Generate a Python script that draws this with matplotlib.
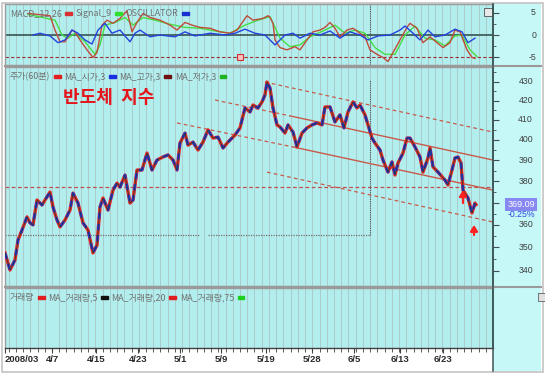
import numpy as np
import matplotlib
matplotlib.use("Agg")
import matplotlib.pyplot as plt
import matplotlib.transforms as mtrans
from matplotlib.patches import Rectangle
from matplotlib.lines import Line2D
from matplotlib.offsetbox import TextArea, DrawingArea, HPacker, AnchoredOffsetbox
from matplotlib.ticker import FixedLocator, NullFormatter

KR = ['Noto Sans CJK KR', 'DejaVu Sans']
NUM = ['Liberation Sans', 'DejaVu Sans']
BG = '#b3eeee'
STRIP = '#c6f8f8'
GRID = '#a9c6c6'

# time index t (chart steps, ~7.2 per trading day), 60-min price readings
price_t = [0, 5, 10, 13, 17, 22, 25, 28, 32, 37, 40, 45, 48, 52, 55, 60, 65, 68, 73, 78,
           83, 88, 92, 95, 98, 103, 108, 112, 115, 120, 125, 128, 132, 137, 142, 147, 152, 158, 163, 168,
           172, 175, 180, 183, 188, 193, 198, 203, 208, 213, 218, 223, 230, 235, 240, 245, 248, 253, 257, 260,
           262, 265, 268, 272, 275, 280, 283, 288, 292, 297, 302, 307, 312, 317, 320, 325, 330, 335, 339, 343,
           348, 352, 355, 360, 363, 367, 370, 375, 378, 383, 387, 390, 393, 398, 402, 405, 410, 415, 418, 423,
           425, 428, 433, 440, 443, 447, 450, 453, 456, 458, 463, 467, 470, 471]
price_v = [347.6, 340.3, 344.6, 353.2, 357.6, 363.5, 360.8, 359.9, 371.2, 368.9, 371.2, 374.9, 368.0, 362.1, 359.0, 362.1, 366.6, 374.4, 369.8, 360.8,
           357.6, 347.6, 351.0, 368.0, 372.1, 366.6, 375.8, 379.1, 377.2, 382.9, 369.8, 371.2, 385.3, 385.3, 393.5, 385.3, 390.1, 391.6, 392.6, 390.1,
           385.3, 398.4, 403.4, 397.4, 398.9, 395.0, 398.9, 405.0, 400.9, 401.4, 396.0, 398.9, 402.4, 406.0, 416.2, 414.1, 417.7, 416.2, 419.3, 423.0,
           429.8, 426.6, 416.2, 407.5, 406.5, 403.4, 407.5, 403.9, 396.5, 403.4, 406.0, 407.5, 408.5, 407.5, 416.7, 416.7, 409.0, 412.6, 406.0, 414.1,
           419.3, 416.2, 417.7, 412.6, 407.5, 400.9, 398.4, 395.0, 390.1, 384.3, 389.2, 382.9, 388.7, 393.5, 400.9, 400.9, 396.5, 391.6, 384.3, 391.1,
           396.0, 386.8, 384.3, 380.5, 378.2, 385.3, 391.1, 391.6, 388.7, 375.8, 372.1, 365.3, 369.8, 369.09]

macd_t = [23, 45, 50, 55, 60, 67, 70, 75, 82, 88, 92, 97, 102, 108, 115, 122, 127, 132, 138, 145,
          155, 165, 172, 180, 187, 195, 205, 215, 225, 232, 242, 248, 258, 263, 265, 268, 270, 275, 282, 290,
          295, 302, 308, 315, 320, 325, 330, 335, 342, 348, 353, 360, 365, 372, 378, 383, 388, 395, 402, 405,
          412, 418, 425, 432, 438, 445, 450, 455, 462, 467, 470]
macd_v = [4.8, 4.3, 1.1, -1.5, -1.5, 1.1, 0.7, -1.1, -3.3, -5.0, -3.9, 2.2, 3.3, 2.6, 3.7, 5.4, 0.7, 2.8, 4.8, 3.9,
          3.3, 2.2, 1.1, 2.8, 2.2, 1.7, 1.5, 0.7, 0.4, 1.1, 4.3, 3.3, 3.7, 4.3, 3.9, 2.6, -1.1, -2.8, -3.3, -2.6,
          -3.3, -1.1, 0.7, 1.1, 1.7, 2.8, 1.5, -0.4, 1.1, 1.5, 0.7, -0.4, -3.3, -4.3, -5.0, -5.9, -3.9, -1.1, 1.7, 2.6,
          1.5, -1.7, -0.4, -1.7, -2.8, -1.7, 1.1, 0.7, -3.3, -5.0, -5.2]

sig_t = [23, 50, 57, 63, 70, 80, 90, 95, 100, 110, 120, 128, 138, 150, 165, 180, 195, 210, 225, 240,
         253, 265, 275, 285, 295, 305, 320, 330, 340, 350, 360, 370, 380, 390, 400, 410, 420, 430, 440, 450,
         457, 465, 472]
sig_v = [4.6, 3.3, 0.0, -0.7, 0.4, -1.5, -4.3, -2.2, 2.2, 2.8, 3.9, 2.2, 3.9, 3.3, 2.4, 1.7, 1.5, 0.9, 0.4, 2.2,
         3.3, 4.1, -0.7, -2.6, -2.2, -0.4, 1.1, 2.2, 0.4, 1.1, 0.4, -2.8, -4.3, -4.3, 0.0, 2.0, -0.7, -1.1, -2.4, -0.2,
         0.0, -3.3, -4.8]

osc_t = [28, 35, 45, 53, 60, 67, 73, 80, 87, 93, 100, 107, 115, 125, 130, 135, 145, 155, 170, 180,
         190, 205, 220, 230, 240, 250, 260, 270, 280, 288, 295, 305, 315, 325, 335, 345, 355, 363, 373, 385,
         395, 400, 408, 415, 423, 430, 440, 450, 457, 463, 470]
osc_v = [0.0, 0.4, -0.2, -1.7, -1.1, 1.1, 0.4, -1.1, -2.0, 1.1, 2.6, 0.4, 1.1, -1.5, 0.4, 1.1, -0.4, 0.0, -0.4, 0.7,
         -0.2, 0.4, 0.0, 0.4, 1.3, 0.4, 0.0, -2.2, 0.0, 0.4, -0.7, 0.4, 0.0, 0.9, -0.7, 0.7, 0.0, -1.1, -0.2, 0.0,
         1.1, 2.0, 0.4, -1.1, 1.1, -0.4, 0.0, 1.3, 0.7, -1.7, -0.7]

# trend channel end points (t, price)
chan_dashed = [([260, 488], [429.8, 403.9]),
               ([210, 285], [420.3, 412.1]),
               ([172, 288], [408.5, 396.5]),
               ([262, 488], [384.3, 361.2])]
chan_solid = [([285, 488], [412.1, 390.1]),
              ([288, 488], [396.5, 375.8])]
hline_price = 377.3
cross_t = 365
cross_price = 355.4

date_t = [0, 47, 91, 133, 175, 216, 261, 307, 349, 395, 438]
date_lab = ['2008/03', '4/7', '4/15', '4/23', '5/1', '5/9', '5/19', '5/28', '6/5', '6/13', '6/23']
price_ticks = [340, 350, 360, 370, 380, 390, 400, 410, 420, 430]
price_labels = [340, 350, 360, 380, 390, 400, 410, 420, 430]
macd_ticks = [5, 0, -5]
last_price = 369.09
last_chg = '-0.25%'

W, H = 545, 373
fig = plt.figure(figsize=(W / 100, H / 100), dpi=100)
fig.patch.set_facecolor('white')


def fbox(top, bottom, left=5, right=493):
    return [left / W, 1 - bottom / H, (right - left) / W, (bottom - top) / H]


# right scale strip and frame (drawn under the axes)
fig.patches.append(Rectangle((493 / W, 2 / H), 48 / W, 368 / H, transform=fig.transFigure,
                             facecolor=STRIP, edgecolor='none', zorder=-2))
fig.patches.append(Rectangle((1.5 / W, 1.5 / H), 541 / W, 369 / H, transform=fig.transFigure,
                             fill=False, edgecolor='#c4c4c4', lw=1.2, zorder=-1))

ax_m = fig.add_axes(fbox(4, 65))
ax_p = fig.add_axes(fbox(67, 286))
ax_v = fig.add_axes(fbox(288, 348))

grid_t = np.arange(47 - 6 * 7.23, 488, 7.23)
for ax in (ax_m, ax_p, ax_v):
    ax.set_facecolor(BG)
    ax.set_xlim(0, 488)
    ax.set_xticks(grid_t, minor=True)
    ax.grid(which='minor', axis='x', color=GRID, lw=0.6)
    ax.grid(which='major', visible=False)
    for s in ('left', 'top', 'bottom'):
        ax.spines[s].set_color('#9c9c9c')
        ax.spines[s].set_linewidth(1.0)
    ax.spines['right'].set_color('#3c5454')
    ax.spines['right'].set_linewidth(1.1)

for ax in (ax_m, ax_p):
    ax.tick_params(axis='x', which='both', bottom=False, labelbottom=False)

# ---- MACD panel
ax_m.set_ylim(-6.67, 6.9)
ax_m.axhline(0, color='#2e4646', lw=1.1, zorder=2)
ax_m.axhline(-5, color='#a03030', lw=0.8, ls=(0, (3, 2)), zorder=2)
ax_m.axvline(cross_t, color='#505050', lw=0.8, ls=(0, (1, 1)), zorder=2)
ax_m.plot(sig_t, sig_v, color='#44dd44', lw=1.0, zorder=3)
ax_m.plot(macd_t, macd_v, color='#c04a3a', lw=1.0, zorder=4)
ax_m.plot(osc_t, osc_v, color='#2244dd', lw=1.0, zorder=5)
ax_m.plot([235], [-4.8], marker='s', ms=4, mfc='#f8c0c0', mec='#d03030', mew=0.8, zorder=6)
ax_m.yaxis.set_ticks_position('right')
ax_m.set_yticks(macd_ticks)
ax_m.set_yticks([-2.5, 2.5], minor=True)
ax_m.tick_params(axis='y', which='both', direction='out', color='#405050', labelright=False, labelleft=False)
ax_m.tick_params(axis='y', which='major', length=4)
ax_m.tick_params(axis='y', which='minor', length=2.5)
tm = mtrans.blended_transform_factory(ax_m.transAxes, ax_m.transData)
for v in macd_ticks:
    ax_m.text((536 - 5) / 488, v, str(v), transform=tm, ha='right', va='center',
              fontsize=6.3, color='#404040', family=NUM, clip_on=False)
ax_m.add_patch(Rectangle((0.982, 0.80), 0.016, 0.13, transform=ax_m.transAxes,
                         facecolor='#e8e8e8', edgecolor='#505050', lw=0.6, zorder=7))

# ---- price panel (log scale)
ax_p.set_yscale('log')
ax_p.set_ylim(333.6, 437.9)
ax_p.axhline(hline_price, color='#c05050', lw=0.9, ls=(0, (3, 2)), zorder=2)
ax_p.plot([cross_t, cross_t], [cross_price, 430.9], color='#505050', lw=0.8, ls=(0, (1, 1)), zorder=2)
ax_p.plot([0, 195], [cross_price, cross_price], color='#707070', lw=0.9, ls=(0, (1, 1)), zorder=2)
ax_p.plot([203, cross_t], [cross_price, cross_price], color='#707070', lw=0.9, ls=(0, (1, 1)), zorder=2)
for xs, ys in chan_dashed:
    ax_p.plot(xs, ys, color='#c85a4a', lw=0.9, ls=(0, (3, 2.5)), zorder=3)
for xs, ys in chan_solid:
    ax_p.plot(xs, ys, color='#c85a4a', lw=1.0, zorder=3)
ax_p.plot(price_t, price_v, color='#e02828', lw=2.4, zorder=5, solid_joinstyle='round')
ax_p.plot(price_t, price_v, color='#2030e0', lw=1.8, ls=(0, (2.5, 2)), zorder=6)
ax_p.plot(price_t, price_v, color='#204020', lw=0.5, zorder=7)

arrow_kw = dict(arrowstyle='-|>,head_width=0.22,head_length=0.35', color='#ff2020', lw=1.6,
                shrinkA=0, shrinkB=0)
ax_p.annotate('', xy=(458, 375.8), xytext=(458, 369.8), arrowprops=arrow_kw, zorder=8)
ax_p.annotate('', xy=(469, 359.9), xytext=(469, 355.4), arrowprops=arrow_kw, zorder=8)
ax_p.text(104, 421.5, '반도체  지수', color='#e4161c', fontsize=13, fontweight='bold',
          family=KR, ha='center', va='center', zorder=9)

ax_p.yaxis.set_ticks_position('right')
ax_p.yaxis.set_major_locator(FixedLocator(price_ticks))
ax_p.yaxis.set_minor_locator(FixedLocator([v + 5 for v in price_ticks]))
ax_p.yaxis.set_major_formatter(NullFormatter())
ax_p.yaxis.set_minor_formatter(NullFormatter())
ax_p.tick_params(axis='y', which='both', direction='out', color='#405050', labelright=False, labelleft=False)
ax_p.tick_params(axis='y', which='major', length=4)
ax_p.tick_params(axis='y', which='minor', length=2.5)
tp = mtrans.blended_transform_factory(ax_p.transAxes, ax_p.transData)
for v in price_labels:
    ax_p.text((533 - 5) / 488, v, str(v), transform=tp, ha='right', va='center',
              fontsize=6.3, color='#404040', family=NUM, clip_on=False)
ax_p.text((521 - 5) / 488, last_price, f'{last_price:.2f}', transform=tp, ha='center', va='center',
          fontsize=6.5, color='white', family=NUM, clip_on=False, zorder=9,
          bbox=dict(boxstyle='square,pad=0.2', fc='#8888f2', ec='none'))
ax_p.text((521 - 5) / 488, 364.4, last_chg, transform=tp, ha='center', va='center',
          fontsize=6.3, color='#2848e0', family=NUM, clip_on=False, zorder=9)

# ---- volume panel (empty)
ax_v.set_ylim(0, 1)
ax_v.set_yticks([])
ax_v.spines['bottom'].set_color('#404040')
ax_v.set_xticks(date_t)
labs = ax_v.set_xticklabels(date_lab, fontsize=6.8, fontweight='bold', color='#2a2a2a', family=NUM)
labs[0].set_horizontalalignment('left')
ax_v.tick_params(axis='x', which='both', bottom=True, labelbottom=True, direction='out',
                 color='#404040', pad=1.5)
ax_v.tick_params(axis='x', which='major', length=3.5)
ax_v.tick_params(axis='x', which='minor', length=3)
ax_v.add_patch(Rectangle((1.092, 0.78), 0.014, 0.13, transform=ax_v.transAxes, clip_on=False,
                         facecolor='#e0e0e0', edgecolor='#606060', lw=0.6))


def legend_row(ax, items):
    kids = []
    for text, color in items:
        kids.append(TextArea(text, textprops=dict(color='#707070', fontsize=6.4, family=KR)))
        da = DrawingArea(6, 6, 0, 0)
        da.add_artist(Rectangle((0.5, 1.8), 5, 2.4, color=color))
        kids.append(da)
    box = HPacker(children=kids, align='center', pad=0, sep=2)
    ax.add_artist(AnchoredOffsetbox(loc='upper left', child=box, pad=0.1, borderpad=0.25,
                                    frameon=False))


legend_row(ax_m, [('MACD_12,26', '#d83030'), ('Signal_9', '#30e030'), ('OSCILLATOR', '#1830d0')])
legend_row(ax_p, [('주가(60분)', '#e02020'), ('MA_시가,3', '#1830e0'),
                  ('MA_고가,3', '#701010'), ('MA_저가,3', '#20b020')])
legend_row(ax_v, [('거래량', '#e02020'), ('MA_거래량,5', '#101010'),
                  ('MA_거래량,20', '#e02020'), ('MA_거래량,75', '#20d020')])

# panel separators
for yy in (66, 287):
    fig.add_artist(Line2D([5 / W, 541 / W], [1 - yy / H] * 2, color='#9a9a9a', lw=1.5))
fig.add_artist(Line2D([493 / W, 493 / W], [1 - 371 / H, 1 - 4 / H], color='#3c5454', lw=1.1))

fig.savefig('out.png', dpi=100)
